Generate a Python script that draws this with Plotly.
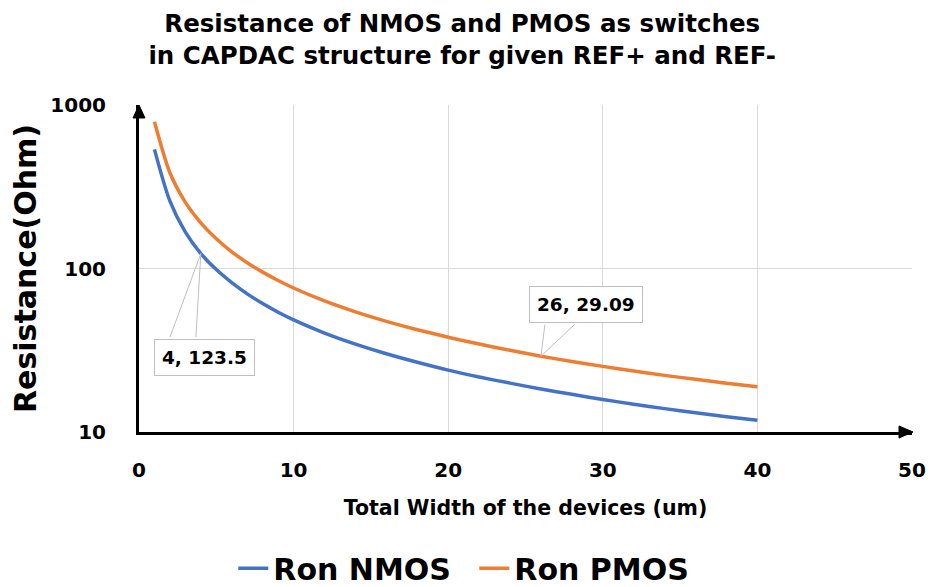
import math
import plotly.graph_objects as go

# ---------------- data ----------------
width_um = [1, 2, 3, 4, 5, 6, 7, 8, 9, 10, 12, 14, 16, 18, 20, 22, 24, 26, 28, 30, 32, 34, 36, 38, 40]
ron_nmos = [535, 258, 167, 123.5, 98.5, 82, 70, 61, 54, 48.5, 40.3, 34.5, 30.1, 26.7, 23.9, 21.7,
            19.9, 18.3, 17.0, 15.8, 14.8, 13.9, 13.1, 12.4, 11.8]
ron_pmos = [790, 385, 254, 190, 152, 126.5, 108.5, 95, 84.5, 76, 63.3, 54.3, 47.5, 42.2, 38.0, 34.5,
            31.6, 29.09, 27.0, 25.2, 23.6, 22.2, 21.0, 19.9, 18.9]
series_names = ["Ron NMOS", "Ron PMOS"]
x_ticks = [0, 10, 20, 30, 40, 50]
y_ticks = [10, 100, 1000]
label_points = [(4, 123.5), (26, 29.09)]  # (W, R) data labels

FONT = "DejaVu Sans"
BLUE = "#4472C4"
ORANGE = "#ED7D31"
GRID = "#d9d9d9"
CALLOUT = "#bfbfbf"

fig = go.Figure()
fig.add_trace(go.Scatter(x=width_um, y=ron_nmos, mode="lines", name=f"<b>{series_names[0]}</b>",
                         line=dict(color=BLUE, width=3.5, shape="spline", smoothing=0.8)))
fig.add_trace(go.Scatter(x=width_um, y=ron_pmos, mode="lines", name=f"<b>{series_names[1]}</b>",
                         line=dict(color=ORANGE, width=3.5, shape="spline", smoothing=0.8)))

fig.update_layout(
    width=930, height=587,
    margin=dict(l=139, r=18, t=105, b=155),
    paper_bgcolor="white", plot_bgcolor="white",
    font=dict(family=FONT, color="black"),
    title=dict(text="<b>Resistance of NMOS and PMOS as switches<br>in CAPDAC structure for given REF+ and REF-</b>",
               x=0.497, xanchor="center", y=0.945, yanchor="top", yref="container",
               font=dict(size=24.5, family=FONT, color="black")),
    showlegend=True,
    legend=dict(orientation="h", x=0.51, xanchor="center", xref="container",
                y=0.032, yanchor="middle", yref="container",
                font=dict(size=30, family=FONT, color="black"), itemwidth=30,
                entrywidth=196, entrywidthmode="pixels",
                traceorder="normal"),
)

fig.update_xaxes(range=[0, 50], tickvals=x_ticks, ticktext=[f"<b>{v}</b>" for v in x_ticks],
                 automargin=False,
                 showgrid=True, gridcolor=GRID, gridwidth=1, zeroline=False,
                 showline=True, linecolor="black", linewidth=3, ticks="",
                 ticklabelstandoff=18, tickfont=dict(size=20, family=FONT),
                 title=dict(text="<b>Total Width of the devices (um)</b>", standoff=20,
                            font=dict(size=20.5, family=FONT)))
fig.update_yaxes(type="log", range=[1, 3], tickvals=y_ticks, ticktext=[f"<b>{v}</b>" for v in y_ticks],
                 automargin=False,
                 showgrid=True, gridcolor=GRID, gridwidth=1, zeroline=False,
                 showline=True, linecolor="black", linewidth=3, ticks="",
                 ticklabelstandoff=26, tickfont=dict(size=20, family=FONT),
                 title=dict(text="<b>Resistance(Ohm)</b>", standoff=5,
                            font=dict(size=30, family=FONT)))

# axis arrowheads
fig.add_shape(type="path", xref="x domain", yref="y domain", xsizemode="pixel", ysizemode="pixel",
              xanchor=1, yanchor=0, path="M 1,0 L -13,6 L -13,-6 Z",
              fillcolor="black", line=dict(color="black", width=1), layer="above")
fig.add_shape(type="path", xref="x domain", yref="y domain", xsizemode="pixel", ysizemode="pixel",
              xanchor=0, yanchor=1, path="M 0,0 L -6,-13 L 6,-13 Z",
              fillcolor="black", line=dict(color="black", width=1), layer="above")

# data labels with callout wedges (two thin leader lines each)
label_cfg = [
    dict(xshift=4, yshift=-104, leaders=[(-31, 84), (-5, 84)]),
    dict(xshift=45, yshift=52, leaders=[(4, -32), (34, -32)]),
]
for (wx, r), cfg in zip(label_points, label_cfg):
    ly = math.log10(r)
    for ax_, ay_ in cfg["leaders"]:
        fig.add_annotation(x=wx, y=ly, xref="x", yref="y", text="", showarrow=True,
                           arrowhead=0, arrowwidth=1, arrowcolor=CALLOUT, ax=ax_, ay=ay_,
                           standoff=0, startstandoff=0, borderpad=0)
    fig.add_annotation(x=wx, y=ly, xref="x", yref="y", showarrow=False,
                       text=f"<b>{wx:g}, {r:g}</b>", xshift=cfg["xshift"], yshift=cfg["yshift"],
                       font=dict(size=18.5, family=FONT, color="black"),
                       bgcolor="white", bordercolor=CALLOUT, borderwidth=1, borderpad=7)

fig.write_html("out.html")
